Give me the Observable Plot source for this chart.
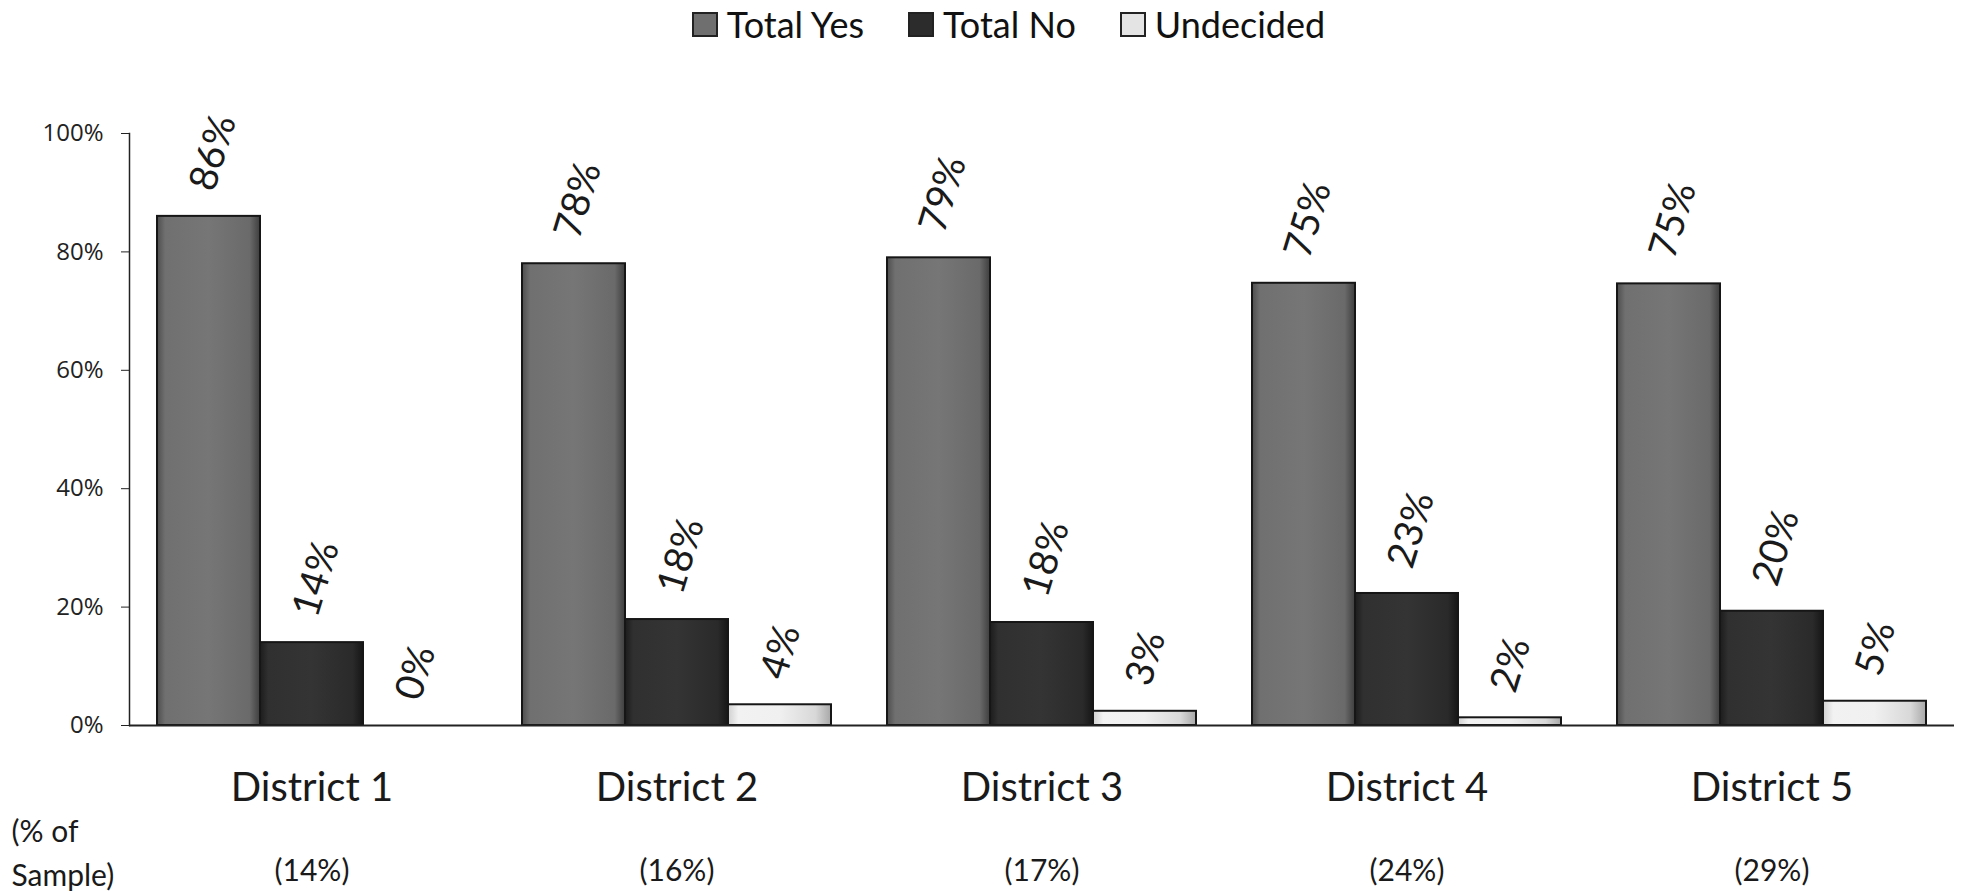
<!DOCTYPE html>
<html><head><meta charset="utf-8">
<script src="https://cdn.jsdelivr.net/npm/d3@7"></script>
<script src="https://cdn.jsdelivr.net/npm/@observablehq/plot@0.6"></script>
<style>
body{margin:0;background:#fff;width:1963px;height:891px;overflow:hidden;font-family:Lato,sans-serif;}
#legend{height:60px;display:flex;justify-content:center;align-items:flex-start;padding-left:54px;box-sizing:border-box;}
.item{display:flex;align-items:center;margin:6px 22px 0 22px;font-size:36px;line-height:1;color:#111;}
.sw{width:26px;height:25px;border:2px solid #222;box-sizing:border-box;margin-right:9px;}
</style></head>
<body><div id="legend"></div><div id="chart"></div>
<script>
const districts = ["District 1","District 2","District 3","District 4","District 5"];
const series = ["Total Yes","Total No","Undecided"];
// bar heights (%)
const yes = [86, 78, 79, 74.7, 74.6];
const no = [14, 17.9, 17.4, 22.3, 19.3];
const undecided = [0, 3.5, 2.4, 1.3, 4.1];
// printed data labels
const yesLabels = ["86%","78%","79%","75%","75%"];
const noLabels = ["14%","18%","18%","23%","20%"];
const undecidedLabels = ["0%","4%","3%","2%","5%"];
const sampleLabels = ["(14%)","(16%)","(17%)","(24%)","(29%)"];
const yTicks = [0, 0.2, 0.4, 0.6, 0.8, 1];
const seriesColors = ["#6f6f6f","#2c2c2c","#e4e4e4"];

const values = [yes, no, undecided];
const labels = [yesLabels, noLabels, undecidedLabels];
const rows = districts.flatMap((d, i) => series.map((s, j) => ({district: d, series: s, value: values[j][i] / 100, label: labels[j][i]})));

// legend
const legend = document.getElementById("legend");
series.forEach((s, j) => {
  const it = document.createElement("div"); it.className = "item";
  const sw = document.createElement("div"); sw.className = "sw"; sw.style.background = seriesColors[j];
  const tx = document.createElement("span"); tx.textContent = s;
  it.appendChild(sw); it.appendChild(tx); legend.appendChild(it);
});

const plot = Plot.plot({
  width: 1963, height: 831,
  marginTop: 73, marginBottom: 166, marginLeft: 128, marginRight: 9,
  style: {fontFamily: "Lato, sans-serif", color: "#111", background: "#fff", overflow: "visible"},
  fx: {domain: districts, paddingInner: 0, paddingOuter: 0, axis: null, label: null},
  x: {domain: series, paddingInner: 0, paddingOuter: 0.26, axis: null},
  y: {domain: [0, 1], axis: null},
  color: {domain: series, range: ["url(#gYes)", "url(#gNo)", "url(#gUnd)"]},
  marks: [
    Plot.barY(rows, {fx: "district", x: "series", y: "value", fill: "series", stroke: "#161616", strokeWidth: 2}),
    Plot.ruleY([0], {stroke: "#222", strokeWidth: 2}),
    Plot.frame({anchor: "left", facetAnchor: "left", stroke: "#222", strokeWidth: 1.5}),
    Plot.axisY({ticks: yTicks, tickFormat: d3.format(".0%"), tickSize: 8, tickPadding: 18, fontSize: 24, fontFamily: "Open Sans", facetAnchor: "left", label: null, stroke: "#222", fill: "#222"}),
    Plot.text(rows, {fx: "district", x: "series", y: "value", text: "label", textAnchor: "start", lineAnchor: "middle", rotate: -73, dx: -7, dy: -27, fontSize: 39, fill: "#1a1a1a"}),
    Plot.text(districts, {fx: d => d, text: d => d, frameAnchor: "bottom", lineAnchor: "middle", dy: 63, fontSize: 40, fill: "#1a1a1a"}),
    Plot.text(districts, {fx: d => d, text: (d, i) => sampleLabels[i], frameAnchor: "bottom", lineAnchor: "middle", dy: 146, fontSize: 30, fill: "#1a1a1a"}),
    Plot.text(["(% of\nSample)"], {frameAnchor: "bottom-left", facetAnchor: "left", lineAnchor: "middle", dx: -118, dy: 124, textAnchor: "start", lineHeight: 1.47, fontSize: 30, fill: "#1a1a1a"})
  ]
});

// bevel-like gradients for the bars
const svg = d3.select(plot);
const defs = svg.insert("defs", ":first-child");
function grad(id, stops) {
  const g = defs.append("linearGradient").attr("id", id).attr("x1", 0).attr("x2", 1).attr("y1", 0).attr("y2", 0);
  stops.forEach(([o, c]) => g.append("stop").attr("offset", o).attr("stop-color", c));
}
grad("gYes", [[0, "#4e4e4e"], [0.08, "#707070"], [0.5, "#767676"], [0.9, "#6a6a6a"], [1, "#3e3e3e"]]);
grad("gNo", [[0, "#1c1c1c"], [0.08, "#303030"], [0.5, "#343434"], [0.9, "#2a2a2a"], [1, "#161616"]]);
grad("gUnd", [[0, "#d0d0d0"], [0.1, "#f2f2f2"], [0.5, "#f0f0f0"], [0.85, "#d8d8d8"], [1, "#a8a8a8"]]);

document.getElementById("chart").appendChild(plot);
</script>
</body></html>
